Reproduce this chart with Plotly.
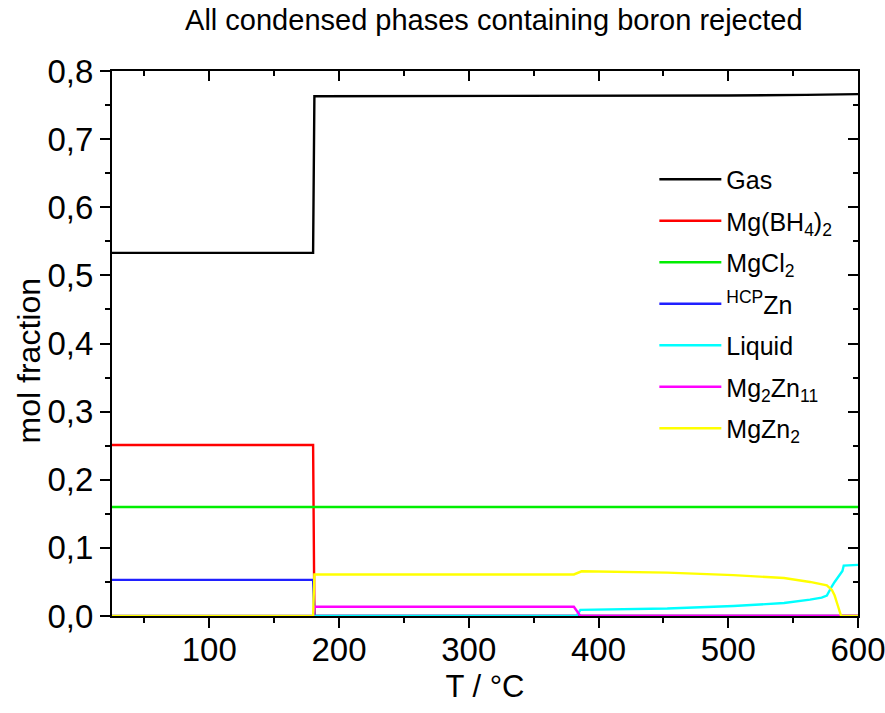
import plotly.graph_objects as go

# ---- data ----
names = ["Gas", "Mg(BH<sub>4</sub>)<sub>2</sub>", "MgCl<sub>2</sub>", "<sup>HCP</sup>Zn",
         "Liquid", "Mg<sub>2</sub>Zn<sub>11</sub>", "MgZn<sub>2</sub>"]
colors = ["#000000", "#FF0000", "#00EE00", "#2020FF", "#00FFFF", "#FF00FF", "#FFFF00"]

T_gas = [25, 180, 181, 300, 400, 500, 560, 600]
gas = [0.533, 0.533, 0.763, 0.763, 0.764, 0.764, 0.765, 0.766]

T_mgbh4 = [25, 180, 181, 600]
mgbh4 = [0.251, 0.251, 0.0, 0.0]

T_mgcl2 = [25, 600]
mgcl2 = [0.160, 0.160]

T_hcpzn = [25, 180, 181, 600]
hcpzn = [0.053, 0.053, 0.0, 0.0]

T_liquid = [25, 383, 386, 400, 453, 504, 543, 563, 572, 576, 578, 580, 582, 584, 586, 588, 589, 600]
liquid = [0.0, 0.0, 0.009, 0.0095, 0.011, 0.0147, 0.019, 0.024, 0.027, 0.030, 0.036, 0.044,
          0.050, 0.056, 0.062, 0.066, 0.074, 0.075]

T_mg2zn11 = [25, 180, 181, 381, 386, 600]
mg2zn11 = [0.0, 0.0, 0.0135, 0.0135, 0.0, 0.0]

T_mgzn2 = [25, 180, 181, 381, 387, 453, 504, 543, 563, 572, 576, 580, 582, 584, 586, 587, 600]
mgzn2 = [0.0, 0.0, 0.061, 0.061, 0.0656, 0.0637, 0.060, 0.0558, 0.050, 0.047, 0.045, 0.038,
         0.030, 0.018, 0.006, 0.0, 0.0]

xs = [T_gas, T_mgbh4, T_mgcl2, T_hcpzn, T_liquid, T_mg2zn11, T_mgzn2]
ys = [gas, mgbh4, mgcl2, hcpzn, liquid, mg2zn11, mgzn2]

FONT = "Liberation Sans, Arial, sans-serif"

fig = go.Figure()
for i, (n, c, x, y) in enumerate(zip(names, colors, xs, ys)):
    fig.add_trace(go.Scatter(x=x, y=y, mode="lines", name=n, legendgroup=f"g{i}",
                             line=dict(color=c, width=2.4)))

axis_common = dict(showline=True, linecolor="black", linewidth=2, showgrid=False,
                   zeroline=False, ticks="outside", tickcolor="black", tickwidth=2,
                   ticklen=10, automargin=False)

fig.update_layout(
    width=885, height=713,
    margin=dict(l=112, r=27, t=71, b=97),
    paper_bgcolor="white", plot_bgcolor="white",
    separators=",.",
    font=dict(family=FONT, color="black"),
    title=dict(text="All condensed phases containing boron rejected",
               x=0.558, xanchor="center", y=0.972, yanchor="middle",
               font=dict(size=29, family=FONT, color="black")),
    xaxis=dict(range=[25, 600], tick0=0, dtick=100, tickfont=dict(size=33),
               ticklabelstandoff=-7, ticklabeloverflow="allow",
               title=dict(text="T / °C", font=dict(size=31), standoff=9),
               minor=dict(ticks="outside", dtick=50, tick0=0, ticklen=5,
                          tickwidth=2, tickcolor="black"),
               **axis_common),
    yaxis=dict(range=[0, 0.8], tick0=0, dtick=0.1, tickformat=".1f",
               tickfont=dict(size=33),
               minor=dict(ticks="outside", dtick=0.05, tick0=0, ticklen=5,
                          tickwidth=2, tickcolor="black"),
               **axis_common),
    xaxis2=dict(overlaying="x", side="top", matches="x", range=[25, 600], anchor="y",
                showline=True, linecolor="black", linewidth=2, showgrid=False,
                zeroline=False, showticklabels=False, ticks="inside", ticklen=10,
                tickwidth=2, tickcolor="black", tick0=0, dtick=100, automargin=False,
                minor=dict(ticks="inside", dtick=50, tick0=0, ticklen=5,
                           tickwidth=2, tickcolor="black")),
    yaxis2=dict(overlaying="y", side="right", matches="y", range=[0, 0.8], anchor="x",
                showline=True, linecolor="black", linewidth=2, showgrid=False,
                zeroline=False, showticklabels=False, ticks="inside", ticklen=10,
                tickwidth=2, tickcolor="black", tick0=0, dtick=0.1, automargin=False,
                minor=dict(ticks="inside", dtick=0.05, tick0=0, ticklen=5,
                           tickwidth=2, tickcolor="black")),
    legend=dict(x=0.727, y=0.843, xanchor="left", yanchor="top",
                bgcolor="rgba(0,0,0,0)", borderwidth=0,
                font=dict(size=25, family=FONT, color="black"),
                itemwidth=62, tracegroupgap=6),
    showlegend=True,
    annotations=[dict(text="mol fraction", xref="paper", yref="paper",
                      x=-0.112, y=0.468, xanchor="center", yanchor="middle",
                      textangle=-90, showarrow=False,
                      font=dict(size=32, family=FONT, color="black"))],
)

# invisible helper trace so the mirrored (top/right) axes render
fig.add_trace(go.Scatter(x=[25], y=[0], xaxis="x2", yaxis="y2", mode="markers",
                         marker=dict(opacity=0), showlegend=False, hoverinfo="skip"))

# remove the default page margin so the 885x713 figure fills the window exactly
fig.write_html("out.html", config={"displayModeBar": False},
               post_script="document.body.style.margin='0';document.body.style.overflow='hidden';")
